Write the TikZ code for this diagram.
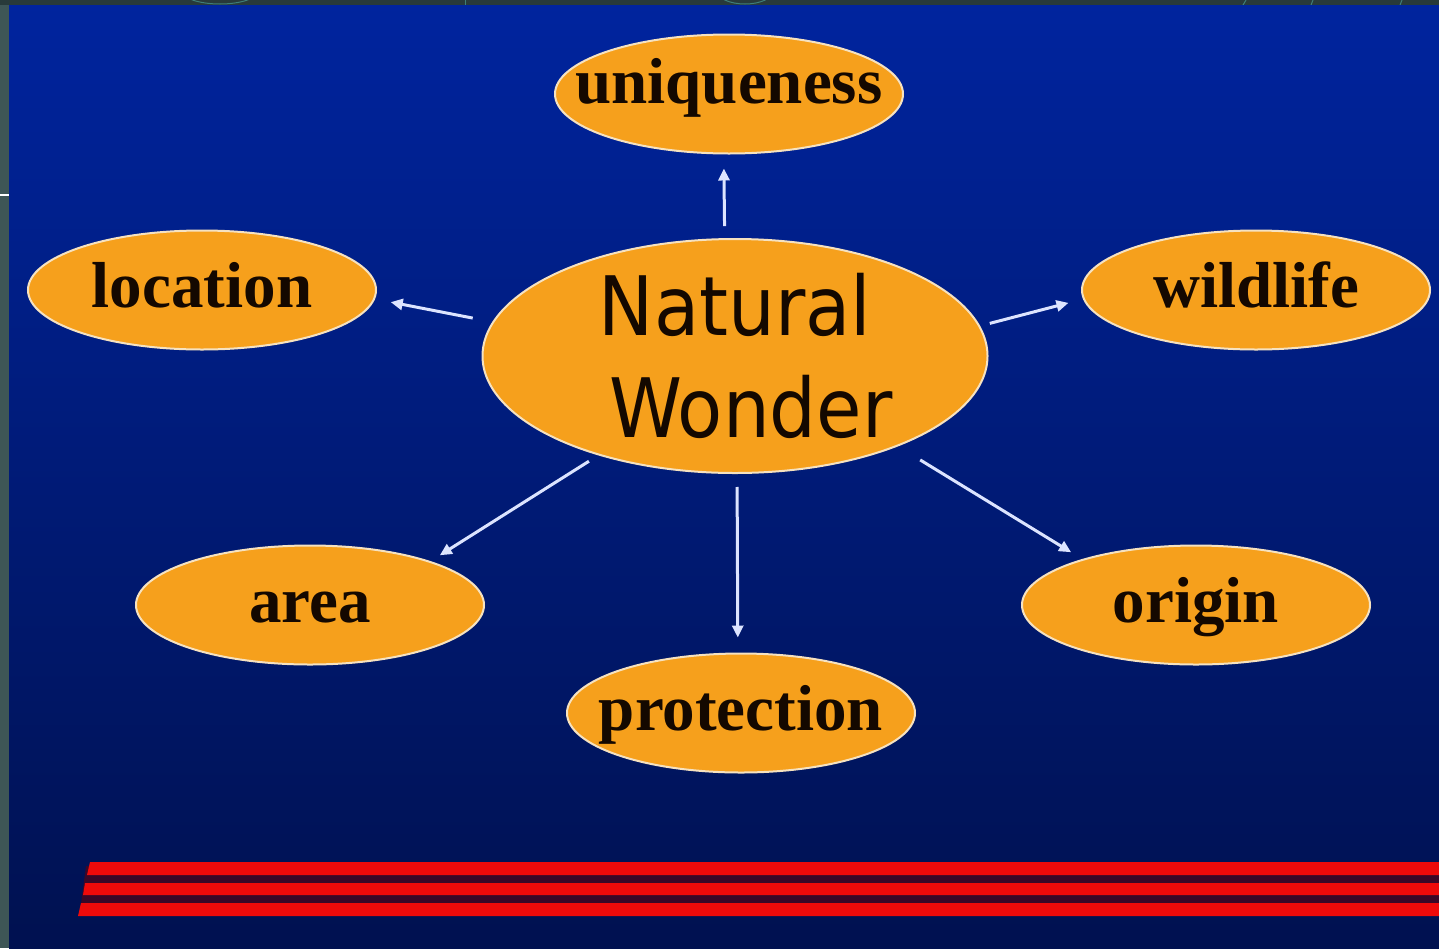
\documentclass[tikz,border=0pt]{standalone}
\usepackage{fontspec}
\setmainfont{Liberation Serif}
\newfontfamily\nwfont{DejaVu Sans Condensed}
\usetikzlibrary{shapes.geometric,arrows.meta}
\definecolor{bgtop}{HTML}{00249E}
\definecolor{bgmid}{HTML}{001E8A}
\definecolor{bgbot}{HTML}{001150}
\definecolor{sidegray}{HTML}{3E5656}
\definecolor{topgray}{HTML}{283A3A}
\definecolor{decoteal}{HTML}{3F7F78}
\definecolor{orangef}{HTML}{F6A01C}
\definecolor{rimc}{HTML}{F6E2C0}
\definecolor{inkc}{HTML}{140800}
\definecolor{arrowc}{HTML}{DCE4FF}
\definecolor{redc}{HTML}{EE0A0A}
\definecolor{gapc}{HTML}{3A0828}
\tikzset{
  bubble/.style={ellipse, draw=rimc, line width=2pt, fill=orangef,
    minimum width=348pt, minimum height=119pt, inner sep=0pt,
    text height=35pt, text depth=0pt, text=inkc,
    font=\bfseries\fontsize{65}{70}\selectfont},
  centre/.style={ellipse, draw=rimc, line width=2pt, fill=orangef,
    minimum width=505pt, minimum height=232pt, inner sep=0pt,
    align=center, text=inkc, font=\nwfont\fontsize{82}{102}\selectfont},
  arr/.style={draw=arrowc, line width=3pt, -{Triangle[length=12pt,width=11pt]}}
}
\begin{document}
\begin{tikzpicture}[x=1pt,y=-1pt]
\useasboundingbox (0,0) rectangle (1439,948);
% frame strips
\fill[sidegray] (0,0) rectangle (1439,948);
\fill[topgray] (0,0) rectangle (1439,5);
\begin{scope}
  \clip (0,0) rectangle (1439,5);
  \draw[decoteal, line width=1pt] (220,-9) ellipse (38pt and 13pt);
  \draw[decoteal, line width=1pt] (745,-9) ellipse (28pt and 13pt);
  \draw[decoteal, line width=1pt] (465,0) -- (465,5);
  \draw[decoteal, line width=1pt] (1246,0) -- (1243,5);
  \draw[decoteal, line width=1pt] (1313,0) -- (1311,5);
  \draw[decoteal, line width=1pt] (1402,0) -- (1400,5);
\end{scope}
\draw[white, line width=1.2pt] (0,195) -- (9,195);
% background
\shade[top color=bgtop, middle color=bgmid, bottom color=bgbot] (9,5) rectangle (1439,948);
% red stripes
\fill[gapc] (86,866) -- (1439,866) -- (1439,912) -- (80,912) -- cycle;
\fill[redc] (90,862) -- (1439,862) -- (1439,875) -- (87,875) -- cycle;
\fill[redc] (85,883) -- (1439,883) -- (1439,895) -- (83,895) -- cycle;
\fill[redc] (81,903) -- (1439,903) -- (1439,916) -- (78,916) -- cycle;
% nodes
\node[centre] (nw) at (735,356) {Natural\\\hspace*{32pt}Wonder};
\node[bubble, text height=18pt] (uniq) at (729,94) {\makebox[0pt]{uniqueness}};
\node[bubble] (loc) at (202,290) {\makebox[0pt]{location}};
\node[bubble] (wild) at (1256,290) {\makebox[0pt]{wildlife}};
\node[bubble] (area) at (310,605) {\makebox[0pt]{area}};
\node[bubble] (orig) at (1196,605) {\makebox[0pt]{origin}};
\node[bubble] (prot) at (741,713) {\makebox[0pt]{protection}};
% connectors
\draw[arr, shorten <=12pt, shorten >=14pt] (nw.95.4) -- (uniq.265.2);
\draw[arr, shorten <=20pt, shorten >=16pt] (nw.172.7) -- (loc.-3.3);
\draw[arr, shorten <=10pt, shorten >=15pt] (nw.7.3) -- (wild.183.3);
\draw[arr, shorten <=11pt, shorten >=11pt] (nw.216.3) -- (area.20.4);
\draw[arr, shorten <=13pt, shorten >=15pt] (nw.-89) -- (prot.93.8);
\draw[arr, shorten <=26pt, shorten >=13pt] (nw.-29.7) -- (orig.158.5);
\end{tikzpicture}
\end{document}
